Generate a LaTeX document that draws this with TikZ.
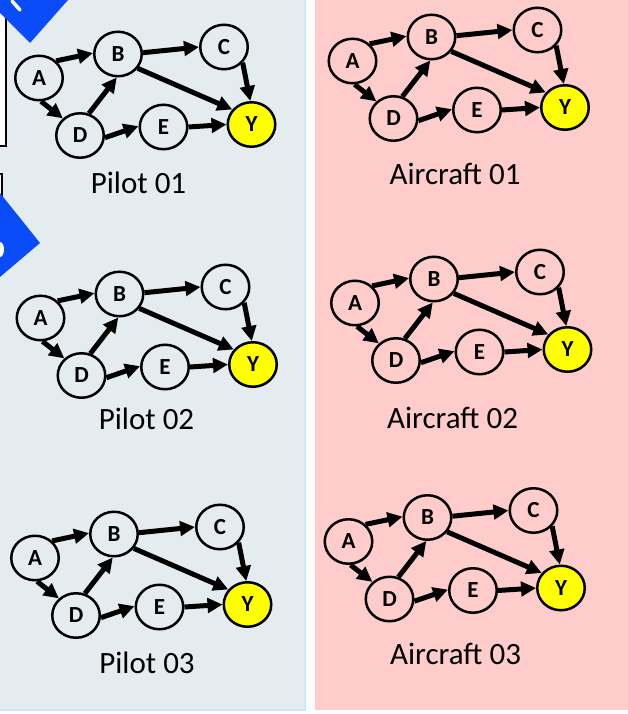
\documentclass[tikz,border=0pt]{standalone}
\usepackage{fontspec}
\setmainfont{Carlito}
\usetikzlibrary{arrows.meta,shapes.geometric}
\definecolor{leftbg}{RGB}{228,236,239}
\definecolor{leftbd}{RGB}{204,232,250}
\definecolor{rightbg}{RGB}{255,204,204}
\definecolor{ribbon}{RGB}{10,76,250}
\definecolor{ynode}{RGB}{255,255,0}
\tikzset{
  nd/.style={ellipse, draw=black, line width=2.5bp, minimum width=47.5bp,
    minimum height=44.5bp, inner sep=0pt,
    font=\fontsize{23bp}{23bp}\selectfont\bfseries},
  ynd/.style={nd, fill=ynode},
  edge/.style={-{Triangle[length=15bp,width=14.5bp]}, line width=5bp},
  lbl/.style={anchor=base, inner sep=0pt, font=\fontsize{31bp}{31bp}\selectfont},
  panelbox/.style={draw=black, fill=white, line width=2bp},
}
\newcommand\dagraph[3]{%
  \node[nd] (#1A) at (#2,#3) {A};
  \node[nd] (#1B) at ({#2+79},{#3-24}) {B};
  \node[nd] (#1C) at ({#2+185},{#3-31}) {C};
  \node[nd] (#1D) at ({#2+41},{#3+57.5}) {D};
  \node[nd] (#1E) at ({#2+124.5},{#3+49}) {E};
  \node[ynd] (#1Y) at ({#2+212.5},{#3+46.5}) {Y};
  \draw[edge] (#1A.45) -- (#1B.178);
  \draw[edge] (#1A.-85) -- (#1D.135);
  \draw[edge] (#1D.68) -- (#1B.-93);
  \draw[edge] (#1B.3) -- (#1C.180);
  \draw[edge] (#1B.-36) -- (#1Y.142);
  \draw[edge] (#1C.-40) -- (#1Y.93);
  \draw[edge] (#1D.-5) -- (#1E.178);
  \draw[edge] (#1E.0) -- (#1Y.180);
}
\begin{document}
\begin{tikzpicture}[x=1bp,y=-1bp]
\useasboundingbox (0,0) rectangle (628,714);
\fill[white] (0,0) rectangle (628,714);
\fill[rightbg] (315,0) rectangle (628,710);
\draw[leftbd, fill=leftbg, line width=2bp] (-5,-5) rectangle (305,709.5);
% cut-off boxes on the left edge
\draw[panelbox] (-5,5) rectangle (6,146);
\draw[panelbox] (-5,174) rectangle (2,262);
% cut-off blue corner marks
\fill[ribbon] (30,43) -- (106,-43) -- (-30,-17) -- cycle;
\draw[white, line width=3.5bp, line cap=round] (12,1) -- (20,10);
\fill[ribbon] (40,243) -- (-40,143) -- (-40,311) -- cycle;
\fill[white] (0,249.5) ellipse [x radius=4, y radius=7.5];
% graphs
\dagraph{pa}{39}{78}
\dagraph{pb}{40.5}{318}
\dagraph{pc}{35}{558}
\dagraph{aa}{352.5}{61}
\dagraph{ab}{355}{303}
\dagraph{ac}{348.5}{541.5}
% labels
\node[lbl] (lpa) at (138.5,193) {Pilot 01};
\node[lbl] (lpb) at (146.5,429) {Pilot 02};
\node[lbl] (lpc) at (147,673) {Pilot 03};
\node[lbl] (laa) at (455,184) {Aircraft 01};
\node[lbl] (lab) at (452.5,428) {Aircraft 02};
\node[lbl] (lac) at (455.5,664) {Aircraft 03};
\end{tikzpicture}
\end{document}
